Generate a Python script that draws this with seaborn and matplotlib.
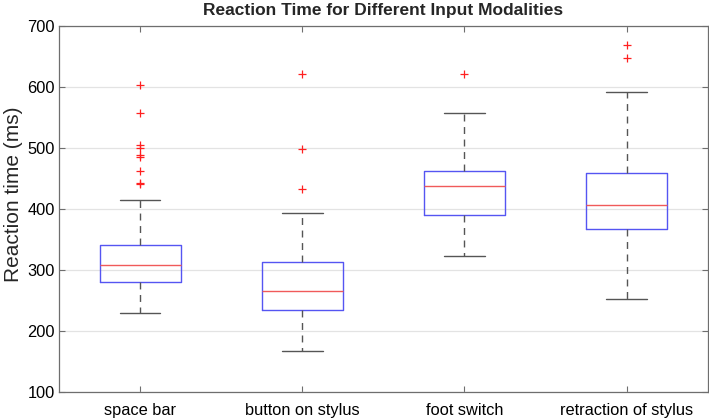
import matplotlib
matplotlib.use("Agg")
import matplotlib.pyplot as plt
import seaborn as sns

# summary statistics (ms)
categories = ["space bar", "button on stylus", "foot switch", "retraction of stylus"]
medians = [309, 266, 437, 406]
q1 = [280, 234, 390, 368]
q3 = [341, 313, 462, 459]
whisker_low = [229, 168, 323, 253]
whisker_high = [415, 393, 558, 591]
outliers = [
    [603, 557, 505, 500, 488, 485, 463, 443, 441],
    [622, 498, 432],
    [622],
    [669, 647],
]

sns.set_theme(style="white")
plt.rcParams["font.family"] = ["Liberation Sans", "DejaVu Sans"]

fig = plt.figure(figsize=(7.09, 4.18), dpi=100)
ax = fig.add_axes([0.0832, 0.0622, 0.915, 0.8756])

# build the stats table bxp needs from the named lists
stats = []
for i, name in enumerate(categories):
    stats.append({
        "label": name,
        "med": medians[i],
        "q1": q1[i],
        "q3": q3[i],
        "whislo": whisker_low[i],
        "whishi": whisker_high[i],
        "fliers": outliers[i],
    })

ax.bxp(stats, positions=range(1, len(categories) + 1), widths=0.5,
       showfliers=True, patch_artist=False,
       boxprops=dict(color="#5555f2", linewidth=1.0),
       medianprops=dict(color="#f05a5a", linewidth=1.0),
       whiskerprops=dict(color="#555555", linewidth=1.0, linestyle=(0, (5, 4))),
       capprops=dict(color="#555555", linewidth=1.0),
       capwidths=0.25,
       flierprops=dict(marker="+", markeredgecolor="#ff2020", markersize=6,
                       markeredgewidth=0.9, linestyle="none"))

ax.set_xlim(0.5, 4.5)
ax.set_ylim(100, 700)
ax.set_yticks(range(100, 701, 100))
ax.set_xticks(range(1, 5))
ax.set_xticklabels(categories)

ax.yaxis.grid(True, color="#e3e3e3", linewidth=0.9)
ax.set_axisbelow(True)

for s in ax.spines.values():
    s.set_visible(True)
    s.set_color("#6e6e6e")
    s.set_linewidth(0.9)

ax.tick_params(axis="both", direction="in", length=4, width=0.8,
               color="#6e6e6e", labelsize=11.8, labelcolor="black",
               top=True, right=True, bottom=True, left=True)
ax.tick_params(axis="x", pad=8)
ax.tick_params(axis="y", pad=3)

ax.set_ylabel("Reaction time (ms)", fontsize=15)
ax.yaxis.set_label_coords(-0.055, 0.54)
ax.set_title("Reaction Time for Different Input Modalities",
             fontsize=12.5, fontweight="bold", pad=8)

fig.savefig("out.png", dpi=100)
